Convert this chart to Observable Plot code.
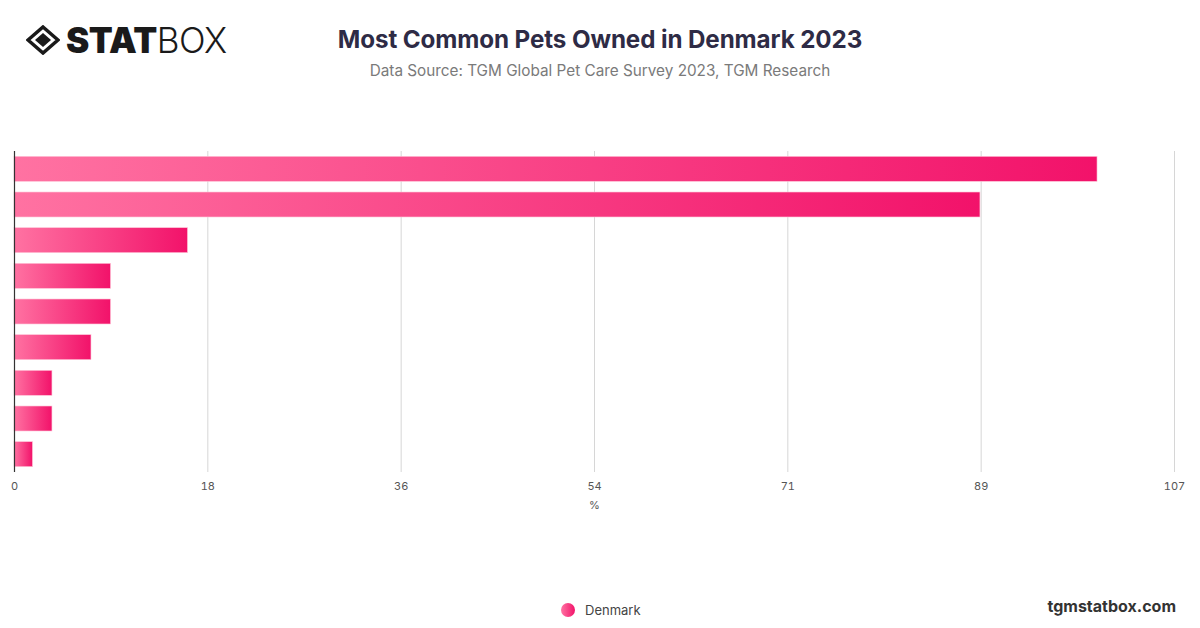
<!DOCTYPE html>
<html>
<head>
<meta charset="utf-8">
<script src="https://cdn.jsdelivr.net/npm/d3@7"></script>
<script src="https://cdn.jsdelivr.net/npm/@observablehq/plot@0.6"></script>
<style>
  html, body { margin: 0; padding: 0; background: #fff; }
  body { width: 1200px; height: 628px; position: relative; overflow: hidden; font-family: Inter, "Noto Sans", sans-serif; }
  #chart { position: absolute; left: 0; top: 0; }
  .title { position: absolute; left: 0; width: 1200px; top: 25px; text-align: center; font-size: 24.2px; font-weight: 700; color: #2e2b45; letter-spacing: -0.1px; }
  .subtitle { position: absolute; left: 0; width: 1200px; top: 61px; text-align: center; font-size: 15.3px; color: #7a7a7a; }
  .logo { position: absolute; left: 26px; top: 22px; display: flex; align-items: center; }
  .logo .word { font-size: 35px; color: #1a1a1a; line-height: 36px; margin-left: 6px; letter-spacing: -0.5px; }
  .logo .b { font-weight: 900; }
  .logo .l { font-weight: 300; }
  .legend { position: absolute; top: 602px; left: 561px; display: flex; align-items: center; font-size: 13px; color: #444; }
  .legend .dot { width: 14px; height: 14px; border-radius: 50%; background: linear-gradient(90deg, #ff73a3, #f2146a); margin-right: 10px; }
  .site { position: absolute; right: 24px; top: 596px; font-size: 16px; font-weight: 700; color: #333; }
</style>
</head>
<body>
<div id="chart"></div>
<div class="logo">
  <svg width="34" height="30" viewBox="0 0 34 30">
    <polygon points="17,2 32,15 17,28 2,15" fill="none" stroke="#1a1a1a" stroke-width="3.5" stroke-linejoin="miter"/>
    <polygon points="17,8 25,15 17,22 9,15" fill="#1a1a1a"/>
  </svg>
  <span class="word"><span class="b">STAT</span><span class="l">BOX</span></span>
</div>
<div class="title">Most Common Pets Owned in Denmark 2023</div>
<div class="subtitle">Data Source: TGM Global Pet Care Survey 2023, TGM Research</div>
<div class="legend"><div class="dot"></div><span>Denmark</span></div>
<div class="site">tgmstatbox.com</div>
<script>
const pets = ["Dog", "Cat", "Fish", "Bird", "Rabbit", "Hamster", "Guinea pig", "Reptile", "Other"];
const shares = [99.9, 89.1, 16.0, 8.9, 8.9, 7.1, 3.5, 3.5, 1.7];
const xMax = 107;
const tickValues = d3.range(7).map(i => xMax * i / 6);

const data = pets.map((p, i) => ({pet: p, value: shares[i]}));

const defs = () => {
  const ns = "http://www.w3.org/2000/svg";
  const g = document.createElementNS(ns, "defs");
  const lg = document.createElementNS(ns, "linearGradient");
  lg.setAttribute("id", "barGrad");
  lg.setAttribute("x1", "0"); lg.setAttribute("x2", "1");
  lg.setAttribute("y1", "0"); lg.setAttribute("y2", "0");
  [["0%", "#ff72a2"], ["100%", "#f2126a"]].forEach(([o, c]) => {
    const s = document.createElementNS(ns, "stop");
    s.setAttribute("offset", o); s.setAttribute("stop-color", c);
    lg.appendChild(s);
  });
  g.appendChild(lg);
  return g;
};

const chart = Plot.plot({
  width: 1200,
  height: 628,
  marginTop: 151,
  marginBottom: 156,
  marginLeft: 14,
  marginRight: 26,
  style: {fontFamily: "Inter, 'Noto Sans', sans-serif", fontSize: "11px", color: "#555", background: "transparent"},
  x: {domain: [0, xMax], axis: null},
  y: {domain: pets, paddingInner: 0.3, paddingOuter: 0.15, round: false, axis: null},
  marks: [
    defs,
    Plot.gridX(tickValues, {stroke: "#d6d6d6", strokeOpacity: 1, strokeWidth: 1}),
    Plot.axisX(tickValues, {tickSize: 0, tickPadding: 10, tickFormat: d => Math.round(d), fill: "#555", fontSize: 11, label: "%", labelAnchor: "center", labelArrow: "none", labelOffset: 36}),
    Plot.barX(data, {x: "value", y: "pet", fill: "url(#barGrad)", stroke: "#ffc2d6", strokeWidth: 0.6}),
    Plot.ruleX([0], {stroke: "#333", strokeWidth: 1.2})
  ]
});
document.getElementById("chart").appendChild(chart);
</script>
</body>
</html>
